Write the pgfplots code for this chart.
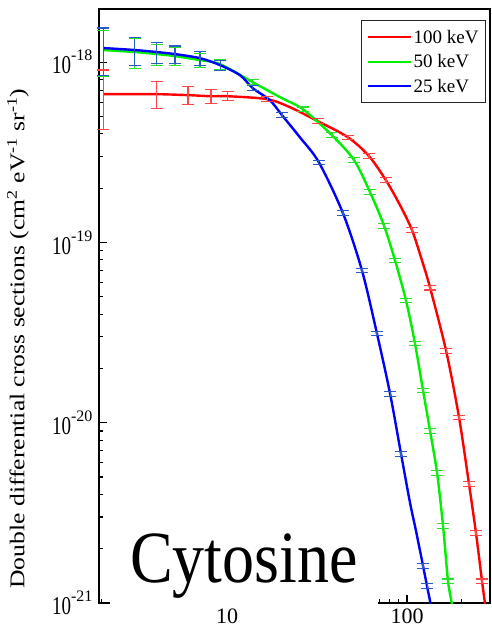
\documentclass[border=0pt]{standalone}
\usepackage{fontspec}
\setmainfont{Liberation Serif}
\usepackage{pgfplots}
\usepackage{pgfplotstable}
\pgfplotsset{compat=1.18}
\definecolor{cred}{RGB}{255,0,0}
\definecolor{cgreen}{RGB}{0,240,0}
\definecolor{cblue}{RGB}{0,0,255}
\definecolor{ebred}{RGB}{255,70,70}
\definecolor{ebgreen}{RGB}{40,225,40}
\definecolor{ebblue}{RGB}{40,90,200}
\newcommand{\ylab}[1]{\scalebox{1}[1.35]{10}\raisebox{13bp}{\fontsize{16bp}{16bp}\selectfont #1}}

% ---- smooth curves (energy in eV, DDCS) ----
\pgfplotstableread{
E s
2.05 6.64e-19
4.08 6.64e-19
6.07 6.56e-19
8.15 6.47e-19
10.1 6.47e-19
16.7 6.23e-19
22.4 5.62e-19
32.0 4.70e-19
47.0 3.83e-19
61.5 3.01e-19
76.4 2.21e-19
91.4 1.61e-19
106.6 1.17e-19
121.1 7.94e-20
134.2 5.62e-20
164.8 2.51e-20
194.5 1.07e-20
220.9 4.58e-21
241.5 2.45e-21
261.0 1.32e-21
271.1 9.87e-22
274.8 8.47e-22
}\redline
\pgfplotstableread{
E s
2.05 1.167e-18
3.08 1.137e-18
4.08 1.108e-18
5.14 1.080e-18
7.08 1.026e-18
9.15 9.75e-19
13.9 7.74e-19
20.2 6.31e-19
26.4 5.48e-19
38.3 3.93e-19
50.8 2.86e-19
62.3 1.90e-19
74.5 1.24e-19
85.8 7.94e-20
98.7 4.76e-20
110.7 2.75e-20
122.7 1.51e-20
134.2 9.03e-21
146.8 5.28e-21
158.5 2.68e-21
169.0 1.32e-21
177.8 9.87e-22
182.4 8.47e-22
}\greenline
\pgfplotstableread{
E s
2.05 1.197e-18
3.08 1.167e-18
4.08 1.137e-18
5.14 1.108e-18
7.08 1.052e-18
9.15 9.62e-19
11.8 8.47e-19
13.9 7.17e-19
17.3 6.15e-19
20.2 5.08e-19
25.4 3.83e-19
32.4 2.78e-19
44.1 1.45e-19
56.2 6.99e-20
68.1 3.12e-20
80.5 1.45e-20
92.6 6.73e-21
103.9 3.60e-21
112.2 2.51e-21
122.7 1.61e-21
129.2 1.24e-21
135.9 9.62e-22
139.3 8.26e-22
}\blueline

% ---- error bars: value, lower end, upper end ----
\pgfplotstableread{
E s lo hi
2.05 6.64e-19 4.24e-19 9.04e-19
4.08 6.64e-19 5.51e-19 7.77e-19
6.07 6.56e-19 5.80e-19 7.32e-19
8.15 6.47e-19 5.89e-19 7.05e-19
10.1 6.47e-19 6.10e-19 6.84e-19
16.7 6.23e-19 6.04e-19 6.42e-19
32.0 4.70e-19 4.56e-19 4.84e-19
47.0 3.83e-19 3.72e-19 3.94e-19
61.5 3.01e-19 2.92e-19 3.10e-19
76.4 2.21e-19 2.14e-19 2.28e-19
106.6 1.17e-19 1.135e-19 1.205e-19
134.2 5.62e-20 5.45e-20 5.79e-20
164.8 2.51e-20 2.43e-20 2.59e-20
194.5 1.07e-20 1.04e-20 1.10e-20
220.9 4.58e-21 4.44e-21 4.72e-21
241.5 2.45e-21 2.38e-21 2.52e-21
261.0 1.32e-21 1.28e-21 1.36e-21
}\rederr
\pgfplotstableread{
E s lo hi
2.05 1.167e-18 0.837e-18 1.497e-18
3.08 1.137e-18 0.927e-18 1.347e-18
4.08 1.108e-18 0.958e-18 1.258e-18
5.14 1.080e-18 0.960e-18 1.200e-18
7.08 1.026e-18 0.936e-18 1.116e-18
9.15 9.75e-19 9.15e-19 10.35e-19
13.9 7.74e-19 7.51e-19 7.97e-19
26.4 5.48e-19 5.32e-19 5.64e-19
38.3 3.93e-19 3.81e-19 4.05e-19
50.8 2.86e-19 2.77e-19 2.95e-19
62.3 1.90e-19 1.84e-19 1.96e-19
74.5 1.24e-19 1.20e-19 1.28e-19
85.8 7.94e-20 7.70e-20 8.18e-20
98.7 4.76e-20 4.62e-20 4.90e-20
110.7 2.75e-20 2.67e-20 2.83e-20
122.7 1.51e-20 1.465e-20 1.555e-20
134.2 9.03e-21 8.76e-21 9.30e-21
146.8 5.28e-21 5.12e-21 5.44e-21
158.5 2.68e-21 2.60e-21 2.76e-21
169.0 1.32e-21 1.28e-21 1.36e-21
}\greenerr
\pgfplotstableread{
E s lo hi
2.05 1.197e-18 0.847e-18 1.547e-18
3.08 1.167e-18 0.957e-18 1.377e-18
4.08 1.137e-18 0.987e-18 1.287e-18
5.14 1.108e-18 0.988e-18 1.228e-18
7.08 1.052e-18 0.962e-18 1.142e-18
9.15 9.62e-19 9.02e-19 10.22e-19
13.9 7.17e-19 6.95e-19 7.39e-19
20.2 5.08e-19 4.93e-19 5.23e-19
32.4 2.78e-19 2.70e-19 2.86e-19
44.1 1.45e-19 1.405e-19 1.495e-19
56.2 6.99e-20 6.78e-20 7.20e-20
68.1 3.12e-20 3.03e-20 3.21e-20
80.5 1.45e-20 1.405e-20 1.495e-20
92.6 6.73e-21 6.53e-21 6.93e-21
122.7 1.61e-21 1.56e-21 1.66e-21
129.2 1.24e-21 1.20e-21 1.28e-21
}\blueerr

\begin{document}
\begin{tikzpicture}
\begin{axis}[
  xmode=log, ymode=log,
  scale only axis,
  width=391bp, height=594bp,
  xmin=1.945, xmax=289,
  ymin=1e-21, ymax=1.97e-18,
  axis line style={line width=1.4bp},
  tick align=inside,
  xtick pos=left, ytick pos=left,
  major tick length=8bp, minor tick length=4.5bp,
  every tick/.style={black, line width=1.1bp},
  xtick={10,100}, xticklabels={10,100},
  minor xtick={2,3,4,5,6,7,8,9,20,30,40,50,60,70,80,90,200},
  ytick={1e-21,1e-20,1e-19,1e-18},
  yticklabels={\ylab{-21},\ylab{-20},\ylab{-19},\ylab{-18}},
  minor ytick={2e-21,3e-21,4e-21,5e-21,6e-21,7e-21,8e-21,9e-21,2e-20,3e-20,4e-20,5e-20,6e-20,7e-20,8e-20,9e-20,2e-19,3e-19,4e-19,5e-19,6e-19,7e-19,8e-19,9e-19},
  xticklabel style={font=\fontsize{22bp}{26bp}\selectfont, yshift=-2bp},
  yticklabel style={font=\fontsize{19bp}{23bp}\selectfont, xshift=-3bp},
  ylabel={\scalebox{1.22}[1]{Double differential cross sections (cm\textsuperscript{2} eV\textsuperscript{-1} sr\textsuperscript{-1})}},
  ylabel style={font=\fontsize{21bp}{25bp}\selectfont, at={(rel axis cs:0,0.445)}, anchor=center, yshift=81bp},
  legend style={at={(0.99,0.981)}, anchor=north east, draw=black!85, line width=1bp,
    font=\fontsize{19bp}{22bp}\selectfont, inner xsep=5bp, inner ysep=7bp,
    row sep=6bp, cells={anchor=west}},
  legend image code/.code={\draw[#1, line width=2bp] (0bp,0bp) -- (43bp,0bp);},
]
\addplot[cred, line width=2.4bp, smooth] table[x=E, y=s] {\redline};
\addlegendentry{100 keV}
\addplot[cgreen, line width=2.4bp, smooth] table[x=E, y=s] {\greenline};
\addlegendentry{50 keV}
\addplot[cblue, line width=2.4bp, smooth] table[x=E, y=s] {\blueline};
\addlegendentry{25 keV}

% error bars: vertical bars and caps
\addplot[draw=none, mark=none, forget plot,
  error bars/.cd, y dir=both, y explicit, error mark=none,
  error bar style={draw=ebred, line width=1.1bp}]
  table[x=E, y=s, y error plus expr=\thisrow{hi}-\thisrow{s}, y error minus expr=\thisrow{s}-\thisrow{lo}] {\rederr};
\addplot[only marks, mark=-, mark size=6bp, mark options={draw=ebred, line width=1.1bp}, forget plot] table[x=E, y=lo] {\rederr};
\addplot[only marks, mark=-, mark size=6bp, mark options={draw=ebred, line width=1.1bp}, forget plot] table[x=E, y=hi] {\rederr};

\addplot[draw=none, mark=none, forget plot,
  error bars/.cd, y dir=both, y explicit, error mark=none,
  error bar style={draw=ebgreen, line width=1.1bp}]
  table[x=E, y=s, y error plus expr=\thisrow{hi}-\thisrow{s}, y error minus expr=\thisrow{s}-\thisrow{lo}] {\greenerr};
\addplot[only marks, mark=-, mark size=6bp, mark options={draw=ebgreen, line width=1.1bp}, forget plot] table[x=E, y=lo] {\greenerr};
\addplot[only marks, mark=-, mark size=6bp, mark options={draw=ebgreen, line width=1.1bp}, forget plot] table[x=E, y=hi] {\greenerr};

\addplot[draw=none, mark=none, forget plot,
  error bars/.cd, y dir=both, y explicit, error mark=none,
  error bar style={draw=ebblue, line width=1.1bp}]
  table[x=E, y=s, y error plus expr=\thisrow{hi}-\thisrow{s}, y error minus expr=\thisrow{s}-\thisrow{lo}] {\blueerr};
\addplot[only marks, mark=-, mark size=6bp, mark options={draw=ebblue, line width=1.1bp}, forget plot] table[x=E, y=lo] {\blueerr};
\addplot[only marks, mark=-, mark size=6bp, mark options={draw=ebblue, line width=1.1bp}, forget plot] table[x=E, y=hi] {\blueerr};

\node[fill=white, anchor=base, inner xsep=20bp, inner ysep=10bp,
  font=\fontsize{64bp}{70bp}\selectfont]
  at (rel axis cs:0.371,0.035) {\scalebox{1}[1.15]{Cytosine}};
\end{axis}
\pgfresetboundingbox
\path[use as bounding box] ([xshift=-99bp,yshift=-33bp]current axis.south west) rectangle ([xshift=2bp,yshift=9bp]current axis.north east);
\end{tikzpicture}
\end{document}
